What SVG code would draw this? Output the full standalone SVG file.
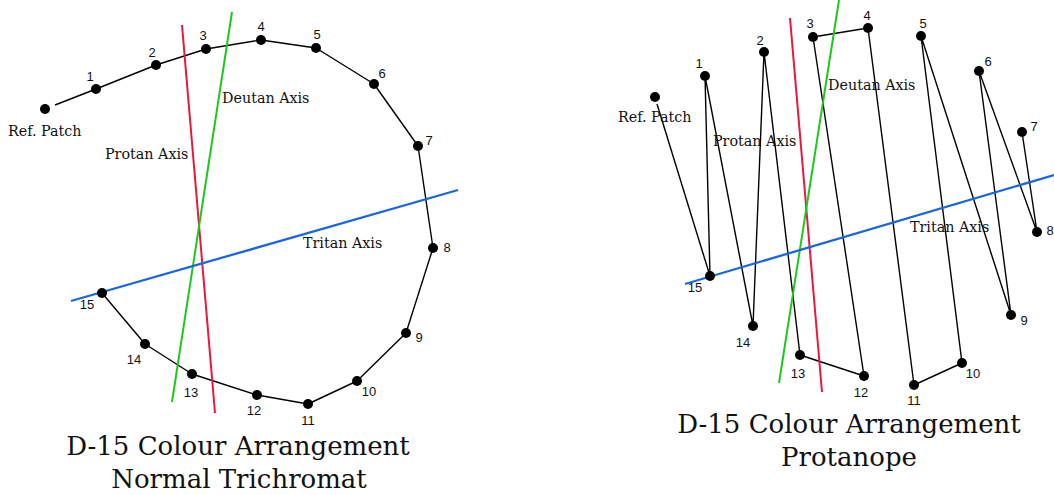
<svg xmlns="http://www.w3.org/2000/svg" width="1054" height="495" viewBox="0 0 1054 495">
<style>
.bg{fill:#fff}
.dot{fill:#000}
.num{font-family:"Liberation Sans",Arial,sans-serif;font-size:13px;fill:#111;text-anchor:middle}
.lbl{font-family:"DejaVu Serif","Liberation Serif",serif;font-size:14.3px;fill:#111}
.title{font-family:"DejaVu Serif","Liberation Serif",serif;font-size:26px;fill:#111;text-anchor:middle}
.conn{fill:none;stroke:#000;stroke-width:1.4;stroke-linejoin:round}
.protan{stroke:#e8193c;stroke-width:2}
.deutan{stroke:#1ec81e;stroke-width:2}
.tritan{stroke:#1a66dd;stroke-width:2.3}
</style>
<rect class="bg" x="0" y="0" width="1054" height="495"/>

<!-- LEFT: Normal Trichromat -->
<g id="left-connectors">
<line class="conn" x1="55" y1="105" x2="96" y2="89"/>
<polyline class="conn" points="96,89 156,65 206,49 261,40 316,48 374,84 418,146 433,248 406,333 357,381 308,404 257,395 192,374 145,344 102,293"/>
</g>
<g id="left-axes">
<line class="protan" x1="182" y1="25" x2="215" y2="413"/>
<line class="deutan" x1="232" y1="12" x2="172" y2="402"/>
<line class="tritan" x1="71" y1="301" x2="458" y2="190"/>
</g>
<g id="left-ref"><circle class="dot" cx="45" cy="109" r="5"/><text class="lbl" x="8" y="136">Ref. Patch</text></g>
<g id="left-n1"><circle class="dot" cx="96" cy="89" r="5"/><text class="num" x="90" y="80.5">1</text></g>
<g id="left-n2"><circle class="dot" cx="156" cy="65" r="5"/><text class="num" x="152" y="56.5">2</text></g>
<g id="left-n3"><circle class="dot" cx="206" cy="49" r="5"/><text class="num" x="203" y="39.5">3</text></g>
<g id="left-n4"><circle class="dot" cx="261" cy="40" r="5"/><text class="num" x="261" y="30.5">4</text></g>
<g id="left-n5"><circle class="dot" cx="316" cy="48" r="5"/><text class="num" x="317" y="38.5">5</text></g>
<g id="left-n6"><circle class="dot" cx="374" cy="84" r="5"/><text class="num" x="382" y="77.5">6</text></g>
<g id="left-n7"><circle class="dot" cx="418" cy="146" r="5"/><text class="num" x="429" y="144.5">7</text></g>
<g id="left-n8"><circle class="dot" cx="433" cy="248" r="5"/><text class="num" x="447" y="251.5">8</text></g>
<g id="left-n9"><circle class="dot" cx="406" cy="333" r="5"/><text class="num" x="419" y="341.5">9</text></g>
<g id="left-n10"><circle class="dot" cx="357" cy="381" r="5"/><text class="num" x="369" y="395.5">10</text></g>
<g id="left-n11"><circle class="dot" cx="308" cy="404" r="5"/><text class="num" x="308" y="424.5">11</text></g>
<g id="left-n12"><circle class="dot" cx="257" cy="395" r="5"/><text class="num" x="254" y="414.5">12</text></g>
<g id="left-n13"><circle class="dot" cx="192" cy="374" r="5"/><text class="num" x="191" y="396.5">13</text></g>
<g id="left-n14"><circle class="dot" cx="145" cy="344" r="5"/><text class="num" x="134" y="363.5">14</text></g>
<g id="left-n15"><circle class="dot" cx="102" cy="293" r="5"/><text class="num" x="87" y="308.5">15</text></g>
<g id="left-axis-labels">
<text class="lbl" x="105" y="159">Protan Axis</text>
<text class="lbl" x="222" y="103">Deutan Axis</text>
<text class="lbl" x="303" y="248">Tritan Axis</text>
</g>
<g id="left-title">
<text class="title" x="238" y="455">D-15 Colour Arrangement</text>
<text class="title" x="239" y="488">Normal Trichromat</text>
</g>

<!-- RIGHT: Protanope -->
<g id="right-connectors">
<line class="conn" x1="657" y1="104" x2="710" y2="276"/>
<polyline class="conn" points="710,276 705,76 753,326 764,52 800,355 864,376 813,37 868,28 914,385 962,363 921,36 1011,315 979,71 1037,232 1022,132"/>
</g>
<g id="right-axes">
<line class="protan" x1="790" y1="18" x2="822" y2="392"/>
<line class="deutan" x1="839" y1="0" x2="779" y2="383"/>
<line class="tritan" x1="685" y1="284" x2="1054" y2="175"/>
</g>
<g id="right-ref"><circle class="dot" cx="655" cy="97" r="5"/><text class="lbl" x="618" y="122">Ref. Patch</text></g>
<g id="right-n1"><circle class="dot" cx="705" cy="76" r="5"/><text class="num" x="699" y="67.5">1</text></g>
<g id="right-n2"><circle class="dot" cx="764" cy="52" r="5"/><text class="num" x="760" y="44.5">2</text></g>
<g id="right-n3"><circle class="dot" cx="813" cy="37" r="5"/><text class="num" x="810" y="27.5">3</text></g>
<g id="right-n4"><circle class="dot" cx="868" cy="28" r="5"/><text class="num" x="867" y="19.5">4</text></g>
<g id="right-n5"><circle class="dot" cx="921" cy="36" r="5"/><text class="num" x="923" y="27.5">5</text></g>
<g id="right-n6"><circle class="dot" cx="979" cy="71" r="5"/><text class="num" x="988" y="65.5">6</text></g>
<g id="right-n7"><circle class="dot" cx="1022" cy="132" r="5"/><text class="num" x="1034" y="130.5">7</text></g>
<g id="right-n8"><circle class="dot" cx="1037" cy="232" r="5"/><text class="num" x="1050" y="234.5">8</text></g>
<g id="right-n9"><circle class="dot" cx="1011" cy="315" r="5"/><text class="num" x="1024" y="324.5">9</text></g>
<g id="right-n10"><circle class="dot" cx="962" cy="363" r="5"/><text class="num" x="973" y="377.5">10</text></g>
<g id="right-n11"><circle class="dot" cx="914" cy="385" r="5"/><text class="num" x="914" y="405">11</text></g>
<g id="right-n12"><circle class="dot" cx="864" cy="376" r="5"/><text class="num" x="861" y="396.5">12</text></g>
<g id="right-n13"><circle class="dot" cx="800" cy="355" r="5"/><text class="num" x="798" y="377.5">13</text></g>
<g id="right-n14"><circle class="dot" cx="753" cy="326" r="5"/><text class="num" x="743" y="346.5">14</text></g>
<g id="right-n15"><circle class="dot" cx="710" cy="276" r="5"/><text class="num" x="695" y="291.5">15</text></g>
<g id="right-axis-labels">
<text class="lbl" x="713" y="146">Protan Axis</text>
<text class="lbl" x="828" y="90">Deutan Axis</text>
<text class="lbl" x="910" y="232">Tritan Axis</text>
</g>
<g id="right-title">
<text class="title" x="849" y="433">D-15 Colour Arrangement</text>
<text class="title" x="849" y="466">Protanope</text>
</g>
</svg>
